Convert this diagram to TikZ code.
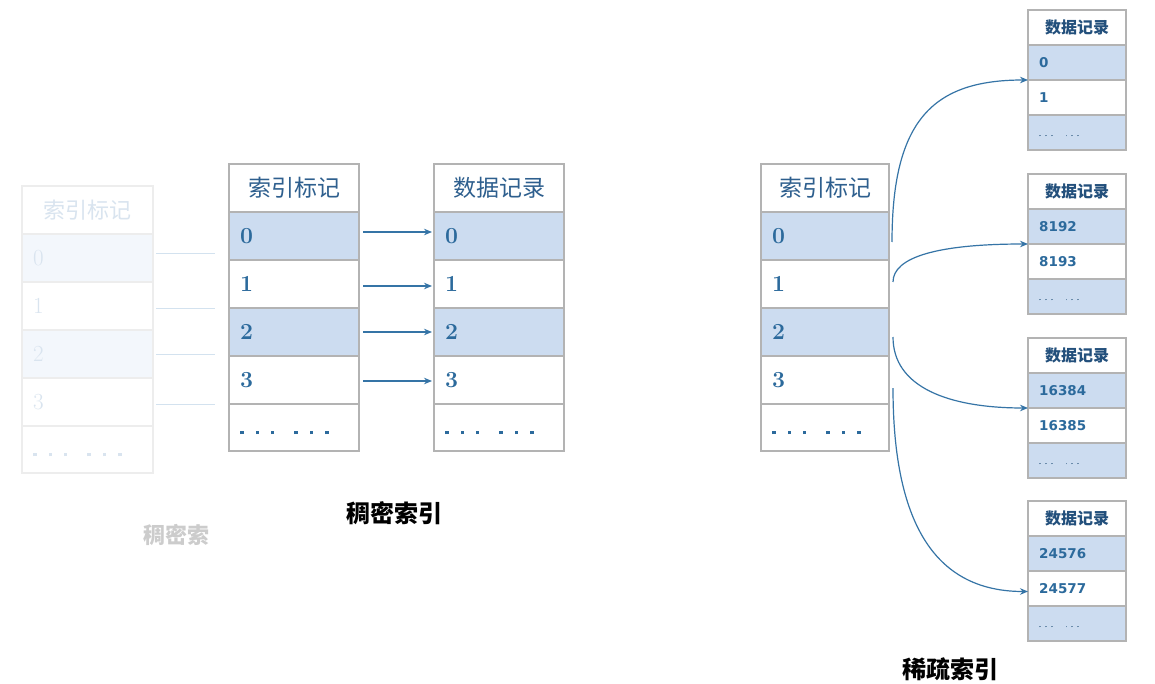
\documentclass[tikz,border=0pt]{standalone}
\usepackage{fontspec}
\newfontfamily\cjk{Noto Sans CJK SC}
\newfontfamily\sansb{DejaVu Sans}
\usetikzlibrary{arrows.meta}
\definecolor{bgray}{HTML}{B3B3B3}
\definecolor{rowfill}{HTML}{CCDCF0}
\definecolor{headblue}{HTML}{2E5F8E}
\definecolor{numblue}{HTML}{2C6A9C}
\definecolor{smallhead}{HTML}{23507C}
\definecolor{arrowblue}{HTML}{3574A6}
\definecolor{ghostline}{HTML}{EDEDED}
\definecolor{ghostfill}{HTML}{F3F7FC}
\definecolor{ghosttext}{HTML}{D9E4EF}
\definecolor{ghostconn}{HTML}{D3E2EF}
\definecolor{smalldot}{HTML}{6B8CAB}
\newcommand\bigdots{\rule{3.4pt}{3.4pt}\hspace{12pt}\rule{3.4pt}{3.4pt}\hspace{12pt}\rule{3.4pt}{3.4pt}\hspace{20pt}\rule{3.4pt}{3.4pt}\hspace{12pt}\rule{3.4pt}{3.4pt}\hspace{12pt}\rule{3.4pt}{3.4pt}}
\newcommand\tinydots{\rule{1.8pt}{1.8pt}\hspace{4pt}\rule{1.8pt}{1.8pt}\hspace{4pt}\rule{1.8pt}{1.8pt}\hspace{13pt}\rule{1.8pt}{1.8pt}\hspace{4pt}\rule{1.8pt}{1.8pt}\hspace{4pt}\rule{1.8pt}{1.8pt}}
\tikzset{
  basecell/.style={inner sep=0pt, outer sep=0pt, anchor=north west},
  dcell/.style={basecell, draw=bgray, line width=1.3pt, fill=white},
  dfill/.style={fill=rowfill},
  dhead/.style={inner sep=0pt, text=headblue, font=\cjk\fontsize{23}{23}\selectfont},
  dnum/.style={inner sep=0pt, anchor=west, text=numblue, font=\bfseries\fontsize{23}{23}\selectfont},
  ddots/.style={inner sep=0pt, anchor=west, text=numblue},
  gcell/.style={basecell, draw=ghostline, line width=1.3pt, fill=white},
  gfill/.style={fill=ghostfill},
  ghead/.style={inner sep=0pt, text=ghosttext, font=\cjk\fontsize{22}{22}\selectfont},
  gnum/.style={inner sep=0pt, anchor=west, text=ghosttext, font=\fontsize{23}{23}\selectfont},
  gdots/.style={inner sep=0pt, anchor=west, text=ghosttext},
  scell/.style={basecell, draw=bgray, line width=1.3pt, fill=white, minimum width=98pt, minimum height=35pt},
  shead/.style={inner sep=0pt, text=smallhead, font=\cjk\bfseries\fontsize{16}{16}\selectfont},
  snum/.style={inner sep=0pt, anchor=west, text=numblue, font=\sansb\bfseries\fontsize{13.5}{13.5}\selectfont},
  sdots/.style={inner sep=0pt, anchor=west, text=smalldot},
  conn/.style={draw=arrowblue, line width=1.2pt, -{Stealth[length=8pt,width=6.5pt]}},
  gconn/.style={draw=ghostconn, line width=1pt},
  caption/.style={inner sep=0pt, font=\cjk\bfseries\fontsize{24}{24}\selectfont},
  gcaption/.style={inner sep=0pt, text=black!20, font=\cjk\bfseries\fontsize{22}{22}\selectfont}
}
% #1 name, #2 x, #3 y top, #4 width, #5 header, #6 style prefix
\newcommand\densetable[6]{%
  \node[#6cell, minimum width=#4pt, minimum height=48pt] (#1-h) at (#2,#3) {};
  \node[#6head] (#1-ht) at (#1-h.center) {#5};
  \foreach \i in {0,1,2,3}{%
    \pgfmathsetmacro\yy{#3+48+48*\i}%
    \ifodd\i
      \node[#6cell, minimum width=#4pt, minimum height=48pt] (#1-\i) at (#2,\yy) {};
    \else
      \node[#6cell, #6fill, minimum width=#4pt, minimum height=48pt] (#1-\i) at (#2,\yy) {};
    \fi
    \node[#6num] (#1-t\i) at ([xshift=11pt]#1-\i.west) {\i};
  }
  \pgfmathsetmacro\yy{#3+240}%
  \node[#6cell, minimum width=#4pt, minimum height=47pt] (#1-4) at (#2,\yy) {};
  \node[#6dots] (#1-t4) at ([xshift=11pt,yshift=-5pt]#1-4.west) {\bigdots};
}
% #1 name, #2 y top, #3 first number, #4 second number
\newcommand\smalltable[4]{%
  \node[scell] (#1-h) at (1028,#2) {};
  \node[shead] (#1-ht) at (#1-h.center) {数据记录};
  \node[scell, fill=rowfill] (#1-0) at (1028,#2+35) {};
  \node[snum] (#1-t0) at ([xshift=11pt]#1-0.west) {#3};
  \node[scell] (#1-1) at (1028,#2+70) {};
  \node[snum] (#1-t1) at ([xshift=11pt]#1-1.west) {#4};
  \node[scell, fill=rowfill] (#1-2) at (1028,#2+105) {};
  \node[sdots] (#1-t2) at ([xshift=11pt,yshift=-3pt]#1-2.west) {\tinydots};
}
\begin{document}
\begin{tikzpicture}[x=1pt,y=-1pt]
\fill[white] (0,0) rectangle (1155,684);
\useasboundingbox (0,0) rectangle (1155,684);

% ghost (faded) dense index table
\densetable{gh}{22}{186}{131}{索引标记}{g}
\draw[gconn] ([xshift=3pt,yshift=4pt]gh-0.east) -- ++(59,0);
\draw[gconn] ([xshift=3pt,yshift=-2pt]gh-1.east) -- ++(59,0);
\draw[gconn] ([xshift=3pt]gh-2.east) -- ++(59,0);
\draw[gconn] ([xshift=3pt,yshift=-2pt]gh-3.east) -- ++(59,0);
\node[gcaption] (gcap) at (176,535) {稠密索};

% dense index
\densetable{ix}{229}{164}{130}{索引标记}{d}
\densetable{dt}{434}{164}{130}{数据记录}{d}
\draw[conn] ([xshift=4pt,yshift=4pt]ix-0.east) -- ([xshift=-2pt,yshift=4pt]dt-0.west);
\draw[conn] ([xshift=4pt,yshift=-2pt]ix-1.east) -- ([xshift=-2pt,yshift=-2pt]dt-1.west);
\draw[conn] ([xshift=4pt]ix-2.east) -- ([xshift=-2pt]dt-2.west);
\draw[conn] ([xshift=4pt,yshift=-1pt]ix-3.east) -- ([xshift=-2pt,yshift=-1pt]dt-3.west);
\node[caption] (cap1) at (394,513) {稠密索引};

% sparse index
\densetable{sp}{761}{164}{128}{索引标记}{d}
\smalltable{ta}{10}{0}{1}
\smalltable{tb}{174}{8192}{8193}
\smalltable{tc}{338}{16384}{16385}
\smalltable{td}{501}{24576}{24577}
\draw[conn] ([xshift=3pt,yshift=-6pt]sp-0.east) .. controls +(0,-122) and +(-95,0) .. (ta-0.south west);
\draw[conn] ([xshift=4pt,yshift=2pt]sp-1.east) .. controls +(0,-25) and +(-90,0) .. (tb-0.south west);
\draw[conn] ([xshift=4pt,yshift=-5pt]sp-2.east) .. controls +(0,50) and +(-80,0) .. (tc-0.south west);
\draw[conn] ([xshift=4pt,yshift=-8pt]sp-3.east) .. controls +(0,140) and +(-90,0) .. ([yshift=-3pt]td-1.west);
\node[caption] (cap2) at (950,669) {稀疏索引};
\end{tikzpicture}
\end{document}
